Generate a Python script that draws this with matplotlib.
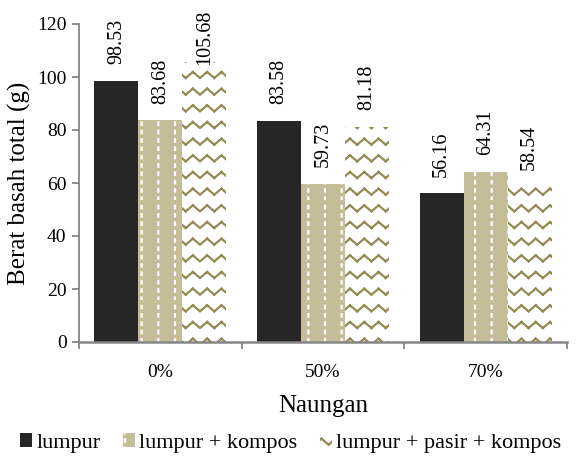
import warnings
warnings.filterwarnings("ignore")
import numpy as np
import matplotlib
matplotlib.use("Agg")
import matplotlib.pyplot as plt
import matplotlib.hatch as mhatch
from matplotlib.path import Path

categories = ['0%', '50%', '70%']
series_names = ['lumpur', 'lumpur + kompos', 'lumpur + pasir + kompos']
lumpur = [98.53, 83.58, 56.16]
kompos = [83.68, 59.73, 64.31]
pasir = [105.68, 81.18, 58.54]
yticks = [0, 20, 40, 60, 80, 100, 120]


class ZigZagHatch(mhatch.HatchPatternBase):
    def __init__(self, hatch, density):
        self.n = int(hatch.count('z') * density)
        self.m = 14
        self.num_vertices = self.n * self.m * 2

    def set_vertices_and_codes(self, vertices, codes):
        k = 0
        for i in range(self.n):
            y0 = (i + 0.5) / self.n
            for j in range(self.m):
                ya = y0 + (0.03 if j % 2 else -0.03)
                yb = y0 + (0.03 if (j + 1) % 2 else -0.03)
                vertices[k] = (j / self.m, ya)
                codes[k] = Path.MOVETO
                vertices[k + 1] = ((j + 1) / self.m, yb)
                codes[k + 1] = Path.LINETO
                k += 2


class DotColumnHatch(mhatch.HatchPatternBase):
    def __init__(self, hatch, density):
        self.cols = int(hatch.count('k') * density)
        self.rows = 12
        self.num_vertices = self.cols * self.rows * 2

    def set_vertices_and_codes(self, vertices, codes):
        k = 0
        for c in range(self.cols):
            x = (c + 0.5) / self.cols
            for r in range(self.rows):
                y = r / self.rows
                vertices[k] = (x, y)
                codes[k] = Path.MOVETO
                vertices[k + 1] = (x, y + 0.025)
                codes[k + 1] = Path.LINETO
                k += 2


mhatch._hatch_types.append(ZigZagHatch)
mhatch._hatch_types.append(DotColumnHatch)

plt.rcParams['font.family'] = ['Liberation Serif', 'DejaVu Serif']
plt.rcParams['hatch.linewidth'] = 1.6

W, H = 581, 468
fig = plt.figure(figsize=(W / 100, H / 100), dpi=100)
ax = fig.add_axes([79 / W, (H - 342) / H, (567 - 79) / W, (342 - 24) / H])

c_black = '#262626'
c_tan = '#C4BD97'
c_olive = '#948A54'
bw = 0.27
x = np.arange(len(categories))
b1 = ax.bar(x - bw, lumpur, bw, color=c_black, edgecolor=c_black, linewidth=0, label=series_names[0])
b2 = ax.bar(x, kompos, bw, facecolor=c_tan, edgecolor='white', linewidth=0, hatch='k', label=series_names[1])
b3 = ax.bar(x + bw, pasir, bw, facecolor='white', edgecolor=c_olive, linewidth=0, hatch='z', label=series_names[2])

ax.set_xlim(-0.5, len(categories) - 0.5)
ax.set_ylim(0, 120)
ax.set_yticks(yticks)
ax.set_xticks(x)
ax.set_xticklabels(categories)
ax.set_xticks(np.arange(len(categories) + 1) - 0.5, minor=True)
ax.tick_params(axis='x', which='major', length=0, labelsize=14, pad=16)
ax.tick_params(axis='x', which='minor', length=5, color='#868686', width=1.3, direction='out')
ax.tick_params(axis='y', length=5, color='#868686', width=1.3, labelsize=14, direction='out', pad=4)
for s in ['top', 'right']:
    ax.spines[s].set_visible(False)
ax.spines['left'].set_color('#868686')
ax.spines['left'].set_linewidth(1.3)
ax.spines['bottom'].set_color('#868686')
ax.spines['bottom'].set_linewidth(1.8)

ax.set_xlabel('Naungan', fontsize=18, labelpad=10)
ax.set_ylabel('Berat basah total (g)', fontsize=18, labelpad=4)

texts = []
for bars, vals in [(b1, lumpur), (b2, kompos), (b3, pasir)]:
    for rect, v in zip(bars, vals):
        t = ax.annotate(f'{v:.2f}', xy=(rect.get_x() + rect.get_width() / 2, v),
                        xytext=(0, 12), textcoords='offset points',
                        rotation=90, ha='center', va='bottom', fontsize=14.5,
                        annotation_clip=False)
        texts.append(t)

fig.legend(handles=[b1, b2, b3], labels=series_names, loc='lower center',
           bbox_to_anchor=(0.5, -0.01), ncol=3, frameon=False, fontsize=16,
           handlelength=0.55, handleheight=0.55, handletextpad=0.2, columnspacing=1.0)

fig.canvas.draw()
renderer = fig.canvas.get_renderer()
limit = H - 10
for t in texts:
    bb = t.get_window_extent(renderer)
    if bb.y1 > limit:
        shift = (bb.y1 - limit) * 72 / fig.dpi
        ox, oy = t.xyann
        t.xyann = (ox, oy - shift)

fig.savefig('out.png', dpi=100)
